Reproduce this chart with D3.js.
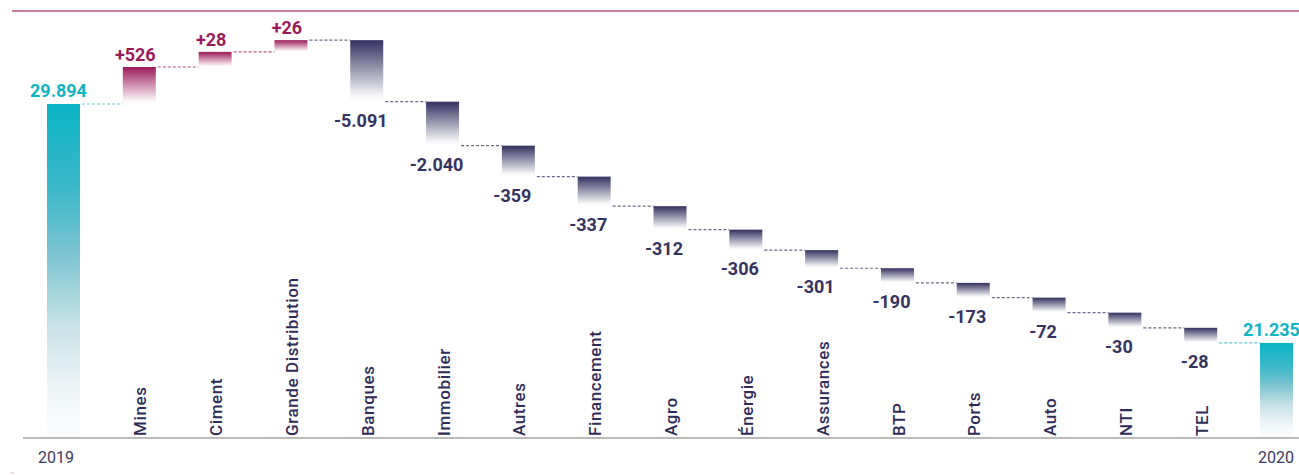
<!DOCTYPE html>
<html>
<head>
<meta charset="utf-8">
<script src="https://cdn.jsdelivr.net/npm/d3@7"></script>
<style>
  html, body { margin: 0; padding: 0; background: #ffffff; }
  svg { display: block; font-family: Roboto, "Noto Sans", sans-serif; }
</style>
</head>
<body>
<svg id="chart" width="1299" height="475"></svg>
<script>
// ---------------- data ----------------
const startLabel = "2019";
const startValue = 29894;
const endLabel = "2020";
const endValue = 21235;
const sectors = ["Mines", "Ciment", "Grande Distribution", "Banques", "Immobilier", "Autres",
                 "Financement", "Agro", "Énergie", "Assurances", "BTP", "Ports", "Auto", "NTI", "TEL"];
const changes = [526, 28, 26, -5091, -2040, -359, -337, -312, -306, -301, -190, -173, -72, -30, -28];

// ---------------- setup ----------------
const W = 1299, H = 475;
const svg = d3.select("#chart");
const defs = svg.append("defs");

const TEAL = "#0db4c6", MAROON = "#9b1a5a", NAVY = "#343160";
const TEXT_NAVY = "#2f2c58";

const fr = d3.formatLocale({ decimal: ",", thousands: ".", grouping: [3], currency: ["", "€"], minus: "-" });
const fmtTotal = fr.format(",");
const fmtChange = fr.format("+,");

const allCats = [startLabel, ...sectors, endLabel];
const x = d3.scaleBand().domain(allCats).range([47, 1293]).paddingInner(0.565).paddingOuter(0);
const bw = x.bandwidth();

const axisY = 438;
// totals scale (truncated baseline)
const yTotal = d3.scaleLinear().domain([17790, startValue]).range([axisY, 104]);
// step display scale (chart is drawn with compressed step heights)
const stepH = d3.scaleLinear()
  .domain([0, 26, 28, 200, 300, 312, 340, 530, 2040, 5091])
  .range([12, 12, 15.5, 15, 18, 24, 31, 38, 45, 63]);

const rawD = changes.map(c => (c > 0 ? -1 : 1) * stepH(Math.abs(c)));
const target = yTotal(endValue) - yTotal(startValue);
const k = target / d3.sum(rawD);
const levels = [yTotal(startValue)];
rawD.forEach((d, i) => levels.push(levels[i] + d * k));

// gradients
function grad(id, stops) {
  const g = defs.append("linearGradient").attr("id", id)
    .attr("x1", 0).attr("y1", 0).attr("x2", 0).attr("y2", 1);
  stops.forEach(s => g.append("stop").attr("offset", s[0]).attr("stop-color", s[1]));
}
grad("gTeal", [[0, "#0bb4c6"], [0.25, "#3ab8c8"], [0.45, "#7cc4d0"], [0.65, "#c3e0e6"], [0.85, "#eef5f7"], [1, "#fbfdfd"]]);
grad("gMaroon", [[0, MAROON], [0.9, "#fbf4f7"], [1, "#ffffff"]]);
grad("gNavy", [[0, NAVY], [0.9, "#f6f6f8"], [1, "#ffffff"]]);

// top rule
svg.append("line").attr("x1", 12).attr("x2", W).attr("y1", 11).attr("y2", 11)
  .attr("stroke", "#c97d9e").attr("stroke-width", 2);
svg.append("line").attr("x1", 11).attr("x2", 14).attr("y1", 473).attr("y2", 473)
  .attr("stroke", "#e3aec4").attr("stroke-width", 1);

// axis line
svg.append("line").attr("x1", 23).attr("x2", W).attr("y1", axisY).attr("y2", axisY)
  .attr("stroke", "#a3a3a3").attr("stroke-width", 1.5);

// connectors
const connG = svg.append("g");
for (let p = 0; p < allCats.length - 1; p++) {
  const yv = levels[p];
  let col;
  if (p === 0 || p === allCats.length - 2) col = "#5fcad6";
  else col = changes[p] > 0 ? "#b45a84" : "#6c6a8a";
  connG.append("line")
    .attr("x1", x(allCats[p]) + bw + 2).attr("x2", x(allCats[p + 1]))
    .attr("y1", yv).attr("y2", yv)
    .attr("stroke", col).attr("stroke-width", 1.2)
    .attr("stroke-dasharray", "3,2");
}

// total bars
const totals = [
  { cat: startLabel, value: startValue },
  { cat: endLabel, value: endValue }
];
svg.append("g").selectAll("rect").data(totals).join("rect")
  .attr("x", d => x(d.cat)).attr("width", bw)
  .attr("y", d => d.cat === startLabel ? levels[0] : levels[levels.length - 1])
  .attr("height", d => axisY - 1 - (d.cat === startLabel ? levels[0] : levels[levels.length - 1]))
  .attr("fill", "url(#gTeal)");

svg.append("g").selectAll("text").data(totals).join("text")
  .attr("x", d => x(d.cat) + bw / 2 - 5)
  .attr("y", d => (d.cat === startLabel ? levels[0] : levels[levels.length - 1]) - 7)
  .attr("text-anchor", "middle")
  .attr("font-size", 18).attr("font-weight", 700).attr("fill", TEAL)
  .text(d => fmtTotal(d.value));

// step bars
const steps = changes.map((c, i) => ({
  cat: sectors[i], value: c,
  top: Math.min(levels[i], levels[i + 1]),
  bottom: Math.max(levels[i], levels[i + 1])
}));
svg.append("g").selectAll("rect").data(steps).join("rect")
  .attr("x", d => x(d.cat)).attr("width", bw)
  .attr("y", d => d.top).attr("height", d => d.bottom - d.top)
  .attr("fill", d => d.value > 0 ? "url(#gMaroon)" : "url(#gNavy)");

svg.append("g").selectAll("text").data(steps).join("text")
  .attr("x", d => x(d.cat) + bw / 2 - (d.value > 0 ? 4 : 6))
  .attr("y", d => d.value > 0 ? d.top - 6 : d.bottom + 25)
  .attr("text-anchor", "middle")
  .attr("font-size", 18).attr("font-weight", 700)
  .attr("fill", d => d.value > 0 ? MAROON : "#363360")
  .text(d => fmtChange(d.value));

// category labels (rotated)
svg.append("g").selectAll("text").data(sectors).join("text")
  .attr("transform", d => `translate(${x(d) + bw / 2 + 1},${axisY - 2}) rotate(-90)`)
  .attr("dy", "0.36em")
  .attr("text-anchor", "start")
  .attr("font-size", 17).attr("font-weight", 500)
  .attr("letter-spacing", 0.6)
  .attr("fill", TEXT_NAVY)
  .text(d => d);

// year labels under axis
svg.append("text").attr("x", x(startLabel) - 9).attr("y", 463)
  .attr("text-anchor", "start").attr("font-size", 16).attr("fill", "#3b3a5c").text(startLabel);
svg.append("text").attr("x", x(endLabel) + bw + 1).attr("y", 463)
  .attr("text-anchor", "end").attr("font-size", 16).attr("fill", "#3b3a5c").text(endLabel);
</script>
</body>
</html>
